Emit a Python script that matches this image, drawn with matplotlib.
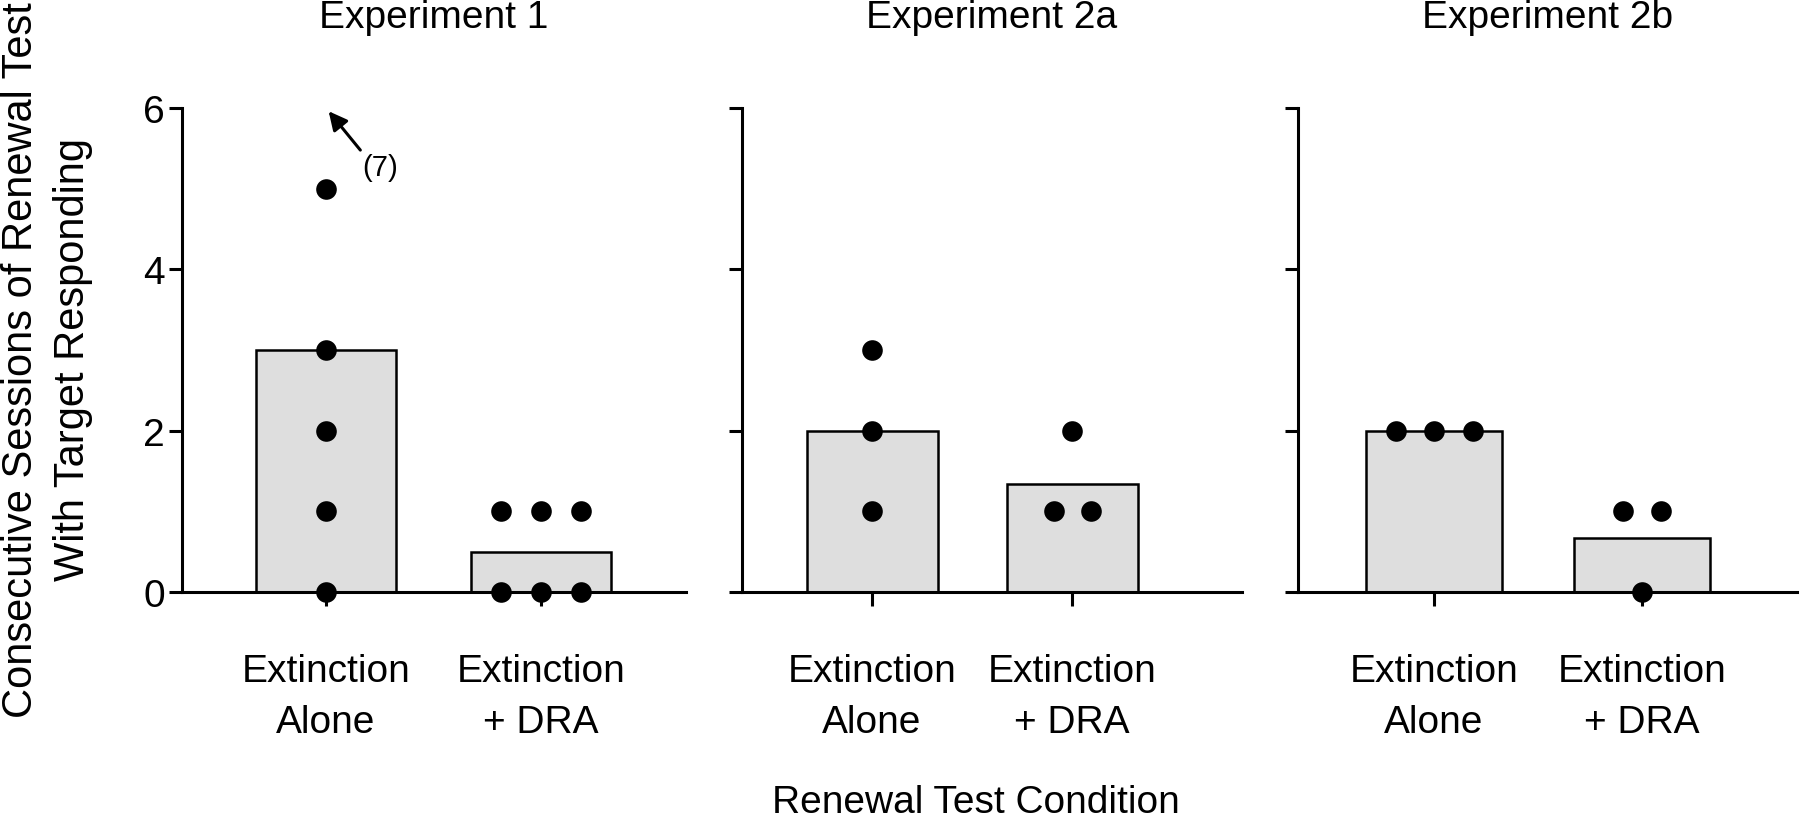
import numpy as np
import matplotlib
matplotlib.use("Agg")
import matplotlib.pyplot as plt

plt.rcParams['font.family'] = ['Liberation Sans', 'DejaVu Sans']

# ---- data ----
experiments = ["Experiment 1", "Experiment 2a", "Experiment 2b"]
conditions = ["Extinction\nAlone", "Extinction\n+ DRA"]
exp1_alone = [0, 1, 2, 3, 5, 7]
exp1_dra = [0, 0, 0, 1, 1, 1]
exp2a_alone = [1, 2, 3]
exp2a_dra = [1, 1, 2]
exp2b_alone = [2, 2, 2]
exp2b_dra = [0, 1, 1]
y_ticks = [0, 2, 4, 6]
y_max = 6

groups = [
    [exp1_alone, exp1_dra],
    [exp2a_alone, exp2a_dra],
    [exp2b_alone, exp2b_dra],
]

# ---- layout ----
W, H = 1800, 820
fig = plt.figure(figsize=(18, 8.2), dpi=100)
bottom_px, top_px = 593, 109
panels_px = [(182, 686), (742, 1242), (1298, 1797)]
xlims = [(-0.67, 1.674), (-0.65, 1.85), (-0.654, 1.745)]
FS = 28
bar_w = 0.655
step = 0.185
lw_spine = 2.2

for i, (exp, (lpx, rpx), xl, data) in enumerate(zip(experiments, panels_px, xlims, groups)):
    ax = fig.add_axes([lpx / W, 1 - bottom_px / H, (rpx - lpx) / W, (bottom_px - top_px) / H])
    pos = np.arange(len(conditions))
    means = [np.mean(d) for d in data]
    ax.bar(pos, means, width=bar_w, color='#dedede', edgecolor='black', linewidth=1.8, zorder=2)
    for p, d in zip(pos, data):
        d = np.asarray(d, dtype=float)
        shown = d[d <= y_max]
        vals, counts = np.unique(shown, return_counts=True)
        xs, ys = [], []
        for v, c in zip(vals, counts):
            offs = (np.arange(c) - (c - 1) / 2) * step
            xs.extend(p + offs)
            ys.extend([v] * c)
        ax.scatter(xs, ys, s=220, color='black', zorder=5, clip_on=False, linewidths=0)
        for v in d[d > y_max]:
            ax.annotate(f"({int(v)})", xy=(p + 0.012, y_max - 0.04), xytext=(p + 0.17, 5.27),
                        ha='left', va='center', fontsize=21,
                        arrowprops=dict(arrowstyle='-|>', color='black', lw=2.2,
                                        mutation_scale=28, shrinkA=0, shrinkB=0,
                                        relpos=(0.0, 1.0)))
    ax.set_xlim(*xl)
    ax.set_ylim(0, y_max)
    ax.set_yticks(y_ticks)
    ax.set_xticks(pos)
    ax.set_xticklabels(conditions, fontsize=FS, linespacing=1.52)
    if i == 0:
        ax.set_yticklabels([str(t) for t in y_ticks], fontsize=FS)
    else:
        ax.set_yticklabels([])
    for s in ['top', 'right']:
        ax.spines[s].set_visible(False)
    for s in ['left', 'bottom']:
        ax.spines[s].set_linewidth(lw_spine)
    ax.tick_params(axis='y', length=9.4, width=lw_spine, pad=3)
    ax.tick_params(axis='x', length=10, width=lw_spine, pad=34)
    ax.set_title(exp, fontsize=FS, pad=58)

fig.text(47 / W, 1 - 360 / H, "Consecutive Sessions of Renewal Test\nWith Target Responding",
         rotation=90, ha='center', va='center', multialignment='center',
         fontsize=30, linespacing=1.4)
fig.text(976 / W, 1 - 813 / H, "Renewal Test Condition", ha='center', va='baseline', fontsize=FS)

fig.savefig("out.png", dpi=100)
